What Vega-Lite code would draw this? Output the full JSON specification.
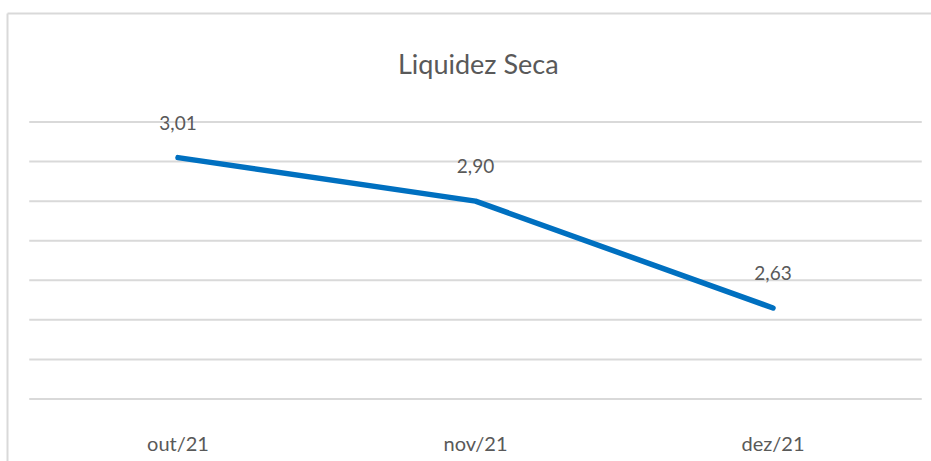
{
  "$schema": "https://vega.github.io/schema/vega-lite/v6.json",
  "autosize": "none",
  "width": 924,
  "height": 448,
  "padding": {"left": 7, "top": 13, "right": 0, "bottom": 0},
  "background": "white",
  "config": {
    "view": {"stroke": null},
    "font": "Lato"
  },
  "title": {
    "text": "Liquidez Seca",
    "anchor": "start",
    "frame": "group",
    "baseline": "alphabetic",
    "dx": 391,
    "offset": -88,
    "font": "Lato",
    "fontSize": 27,
    "fontWeight": "normal",
    "color": "#595959"
  },
  "datasets": {
    "serie": [
      {"mes": "out/21", "idx": 0, "valor": 3.01, "rotulo": "3,01"},
      {"mes": "nov/21", "idx": 1, "valor": 2.90, "rotulo": "2,90"},
      {"mes": "dez/21", "idx": 2, "valor": 2.63, "rotulo": "2,63"}
    ],
    "grade": [
      {"g": 2.4}, {"g": 2.5}, {"g": 2.6}, {"g": 2.7},
      {"g": 2.8}, {"g": 2.9}, {"g": 3.0}, {"g": 3.1}
    ]
  },
  "layer": [
    {
      "data": {"name": "grade"},
      "mark": {"type": "rule", "color": "#d9d9d9", "strokeWidth": 2},
      "encoding": {
        "y": {"field": "g", "type": "quantitative", "scale": {"domain": [2.2433, 3.3755], "nice": false, "zero": false},
              "axis": {"orient": "left", "domain": true, "domainColor": "#d9d9d9", "domainWidth": 2, "ticks": false, "labels": false, "grid": false, "title": null}},
        "x": {"datum": -0.5, "type": "quantitative", "scale": {"domain": [-0.5748, 2.5311], "nice": false, "zero": false},
              "axis": {"orient": "top", "domain": true, "domainColor": "#d9d9d9", "domainWidth": 2, "ticks": false, "labels": false, "grid": false, "title": null}},
        "x2": {"datum": 2.5}
      }
    },
    {
      "data": {"name": "serie"},
      "mark": {"type": "line", "color": "#0070C0", "strokeWidth": 5.5, "strokeCap": "round", "strokeJoin": "round"},
      "encoding": {
        "x": {"field": "idx", "type": "quantitative"},
        "y": {"field": "valor", "type": "quantitative"}
      }
    },
    {
      "data": {"name": "serie"},
      "mark": {"type": "text", "baseline": "alphabetic", "align": "center", "dy": -28, "fontSize": 19, "color": "#595959"},
      "encoding": {
        "x": {"field": "idx", "type": "quantitative"},
        "y": {"field": "valor", "type": "quantitative"},
        "text": {"field": "rotulo"}
      }
    },
    {
      "data": {"name": "serie"},
      "mark": {"type": "text", "baseline": "alphabetic", "align": "center", "dy": 52, "fontSize": 20, "color": "#595959"},
      "encoding": {
        "x": {"field": "idx", "type": "quantitative"},
        "y": {"datum": 2.4, "type": "quantitative"},
        "text": {"field": "mes"}
      }
    }
  ]
}
